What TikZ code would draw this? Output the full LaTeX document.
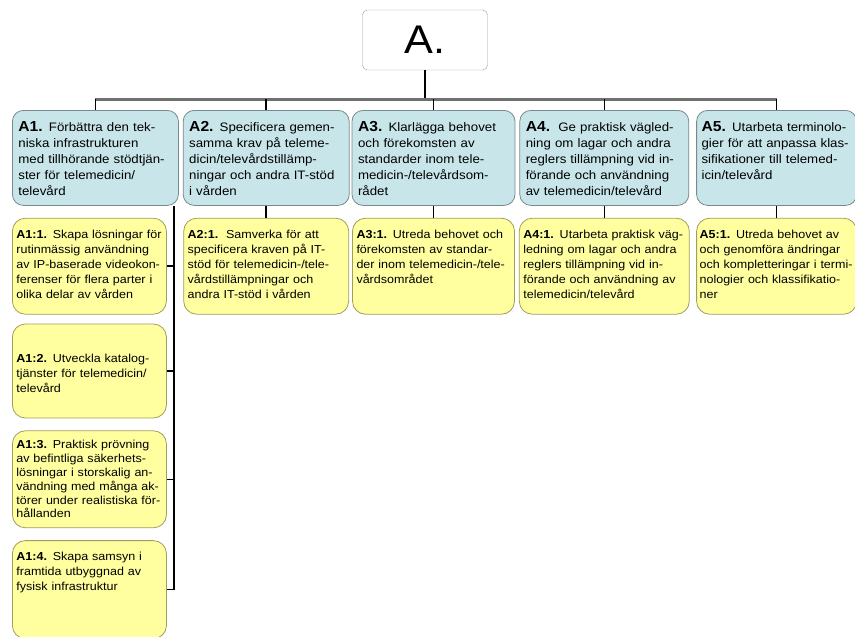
\documentclass[tikz,border=0pt]{standalone}
\usepackage{fontspec}
\setmainfont{Liberation Sans}[FakeStretch=1.08]
\usetikzlibrary{positioning}
\definecolor{goalblue}{RGB}{200,229,234}
\definecolor{goalline}{RGB}{120,138,140}
\definecolor{taskyellow}{RGB}{255,255,160}
\definecolor{taskline}{RGB}{160,158,95}
\definecolor{busgray}{RGB}{112,112,112}
\newcommand{\goalno}[1]{{\fontsize{14.5}{16}\selectfont\bfseries #1}}
\newcommand{\taskno}[1]{{\bfseries #1}}
\tikzset{
  root box/.style={
    draw=gray!80,
    rounded corners=5pt,
    minimum width=125pt,
    minimum height=60pt,
    inner sep=0pt,
    font=\fontsize{40}{40}\selectfont,
  },
  goal box/.style={
    draw=goalline,
    line width=0.8pt,
    fill=goalblue,
    rounded corners=11pt,
    text width=#1,
    inner xsep=6pt,
    inner ysep=4pt,
    align=left,
    text height=17pt,
    text depth=70pt,
    font=\fontsize{12.3}{16}\selectfont,
  },
  task box/.style={
    draw=taskline,
    line width=0.8pt,
    fill=taskyellow,
    rounded corners=13pt,
    text width=#1,
    inner xsep=4pt,
    inner ysep=4pt,
    align=left,
    text height=16pt,
    text depth=72pt,
    font=\fontsize{11.6}{15}\selectfont,
  },
  root line/.style={
    line width=1.3pt,
  },
  bus line/.style={
    draw=busgray,
    line width=3pt,
  },
  link/.style={
    line width=1.6pt,
  }
}

\begin{document}
\begin{tikzpicture}[x=1pt,y=-1pt]
        \useasboundingbox (0,0) rectangle (855,637);

        \node [root box] (a) at (425,40) {A.};

        \node [goal box=154pt, anchor=north west] (a1) at (12,110)
          {\goalno{A1.} Förbättra den tek-\\niska infrastrukturen\\med tillhörande stödtjän-\\ster för telemedicin/\\televård};
        \node [goal box=154pt, right=4pt of a1] (a2)
          {\goalno{A2.} Specificera gemen-\\samma krav på teleme-\\dicin/televårdstillämp-\\ningar och andra IT-stöd\\i vården};
        \node [goal box=151pt, right=2pt of a2] (a3)
          {\goalno{A3.} Klarlägga behovet\\och förekomsten av\\standarder inom tele-\\medicin-/televårdsom-\\rådet};
        \node [goal box=157pt, right=4pt of a3] (a4)
          {\goalno{A4.}\ \ Ge praktisk vägled-\\ning om lagar och andra\\reglers tillämpning vid in-\\förande och användning\\av telemedicin/televård};
        \node [goal box=150pt, inner xsep=5pt, right=7pt of a4] (a5)
          {\goalno{A5.} Utarbeta terminolo-\\gier för att anpassa klas-\\sifikationer till telemed-\\icin/televård};

        \node [task box=146pt, below right=12pt and 0pt of a1.south west] (a11)
          {\taskno{A1:1.} Skapa lösningar för\\rutinmässig användning\\av IP-baserade videokon-\\ferenser för flera parter i\\olika delar av vården};
        \node [task box=146pt, text height=34pt, text depth=52pt, below right=9pt and 0pt of a11.south west] (a12)
          {\taskno{A1:2.} Utveckla katalog-\\tjänster för telemedicin/\\televård};
        \node [task box=146pt, text height=14pt, text depth=75pt, font=\fontsize{11.6}{13.8}\selectfont, below right=12pt and 0pt of a12.south west] (a13)
          {\taskno{A1:3.} Praktisk prövning\\av befintliga säkerhets-\\lösningar i storskalig an-\\vändning med många ak-\\törer under realistiska för-\\hållanden};
        \node [task box=146pt, text depth=74pt, below right=12pt and 0pt of a13.south west] (a14)
          {\taskno{A1:4.} Skapa samsyn i\\framtida utbyggnad av\\fysisk infrastruktur};

        \node [task box=157pt, below=12pt of a2] (a21)
          {\taskno{A2:1.}\ \ Samverka för att\\specificera kraven på IT-\\stöd för telemedicin-/tele-\\vårdstillämpningar och\\andra IT-stöd i vården};
        \node [task box=154pt, below=12pt of a3] (a31)
          {\taskno{A3:1.} Utreda behovet och\\förekomsten av standar-\\der inom telemedicin-/tele-\\vårdsområdet};
        \node [task box=162pt, below=12pt of a4] (a41)
          {\taskno{A4:1.} Utarbeta praktisk väg-\\ledning om lagar och andra\\reglers tillämpning vid in-\\förande och användning av\\telemedicin/televård};
        \node [task box=154pt, inner xsep=3pt, below=12pt of a5] (a51)
          {\taskno{A5:1.} Utreda behovet av\\och genomföra ändringar\\och kompletteringar i termi-\\nologier och klassifikatio-\\ner};

        \coordinate (bus) at ([yshift=-29pt]a.south);
        \draw [root line] (a.south) -- (bus);
        \draw [bus line] (a1.north |- bus) -- (a5.north |- bus);
        \draw [link] (a1.north |- bus) -- (a1.north);
        \draw [link] (a2.north |- bus) -- (a2.north);
        \draw [link] (a3.north |- bus) -- (a3.north);
        \draw [link] (a4.north |- bus) -- (a4.north);
        \draw [link] (a5.north |- bus) -- (a5.north);

        \draw [link] (a2.south) -- (a21.north);
        \draw [link] (a3.south) -- (a31.north);
        \draw [link] (a4.south) -- (a41.north);
        \draw [link] (a5.south) -- (a51.north);

        \coordinate (spine) at ([xshift=-5pt]a1.south east);
        \draw [link] (spine) |- (a14.east);
        \draw [link] (spine |- a11.east) -- (a11.east);
        \draw [link] (spine |- a12.east) -- (a12.east);
        \draw [link] (spine |- a13.east) -- (a13.east);
      \end{tikzpicture}
\end{document}
